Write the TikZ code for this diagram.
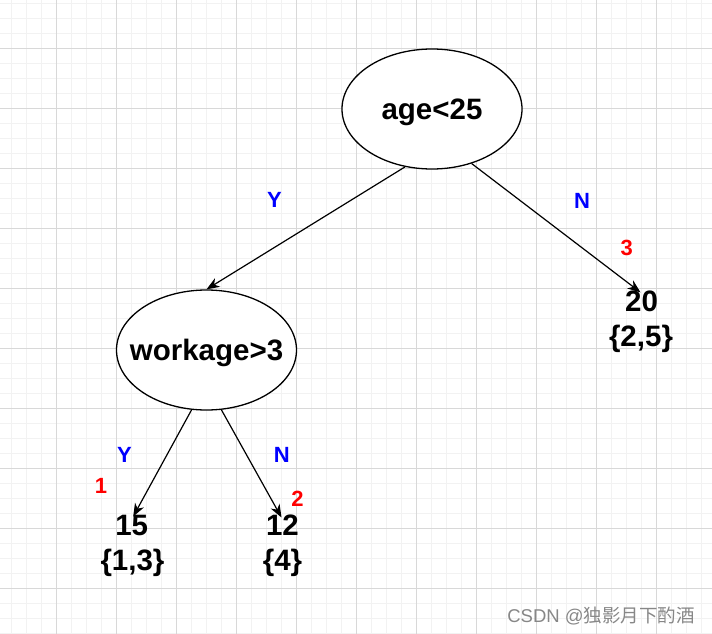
\documentclass[tikz,border=0pt]{standalone}
\usepackage{fontspec}
\setmainfont{Liberation Sans}
\newfontfamily\cjkfont{Noto Sans CJK SC}
\usetikzlibrary{arrows.meta,shapes.geometric}
\definecolor{gridmajor}{RGB}{216,216,216}
\definecolor{gridminor}{RGB}{242,242,242}
\definecolor{lblblue}{RGB}{0,0,255}
\definecolor{lblred}{RGB}{255,0,0}
\definecolor{wmgray}{RGB}{135,135,135}
\begin{document}
\begin{tikzpicture}[x=1pt,y=-1pt,
  cond/.style={ellipse,draw=black,line width=1.3pt,fill=white,minimum width=180pt,minimum height=120pt,inner sep=0pt,font=\bfseries\fontsize{29.5}{34}\selectfont},
  leafval/.style={inner sep=0pt,font=\bfseries\fontsize{29.5}{34}\selectfont},
  yn/.style={inner sep=0pt,text=lblblue,font=\bfseries\fontsize{22}{24}\selectfont},
  order/.style={inner sep=0pt,text=lblred,font=\bfseries\fontsize{22}{24}\selectfont},
  edge/.style={-{Stealth[length=13pt,width=10pt,inset=4pt]},line width=1.2pt}]
\useasboundingbox (0,0) rectangle (712,634);
\fill[white] (0,0) rectangle (712,634);
% grid
\foreach \i in {0,...,46} {\draw[gridminor,line width=1pt] (11.5+15*\i,0) -- (11.5+15*\i,634);}
\foreach \j in {0,...,42} {\draw[gridminor,line width=1pt] (0,3.5+15*\j) -- (712,3.5+15*\j);}
\foreach \i in {0,...,10} {\draw[gridmajor,line width=1pt] (56.5+60*\i,0) -- (56.5+60*\i,634);}
\foreach \j in {0,...,9} {\draw[gridmajor,line width=1pt] (0,48.5+60*\j) -- (712,48.5+60*\j);}
% nodes
\node[cond] (root) at (432,109) {\makebox[0pt]{\raisebox{-10.5pt}[0pt][0pt]{age<25}}};
\node[cond] (wk) at (206.5,350) {\makebox[0pt]{\raisebox{-10.5pt}[0pt][0pt]{workage>3}}};
\node[leafval] (v20) at (641.5,301.5) {20};
\node[leafval] (s20) at (641,339) {\{2,5\}};
\node[leafval] (v15) at (131.7,525.5) {15};
\node[leafval] (s15) at (132.5,563) {\{1,3\}};
\node[leafval] (v12) at (282.5,525.5) {12};
\node[leafval] (s12) at (282.5,563) {\{4\}};
% labels
\node[yn] (y1) at (274.5,200) {Y};
\node[yn] (n1) at (582,201) {N};
\node[yn] (y2) at (124.5,455) {Y};
\node[yn] (n2) at (281.7,454.7) {N};
\node[order] (o1) at (101,485.5) {1};
\node[order] (o2) at (297.5,499) {2};
\node[order] (o3) at (626.7,248.3) {3};
% edges
\draw[edge] (root.245) -- (wk.north);
\draw[edge] (root.306) -- ([xshift=-1pt,yshift=-1.5pt]v20.north);
\draw[edge] (wk.256) -- ([xshift=1.5pt,yshift=-1.5pt]v15.north);
\draw[edge] (wk.284) -- ([xshift=-1pt,yshift=-2.5pt]v12.north);
% watermark
\node[inner sep=0pt,text=wmgray,font=\fontsize{18.5}{20}\selectfont] (wm) at (601,616) {CSDN @{\cjkfont 独影月下酌酒}};
\end{tikzpicture}
\end{document}
